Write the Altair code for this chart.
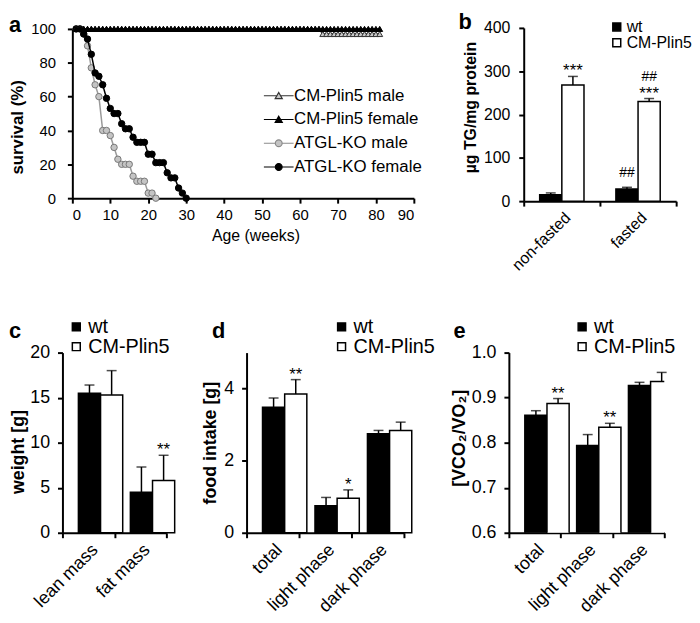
import altair as alt
import pandas as pd

FONT = "Liberation Sans"

# ---------------- panel a: survival ----------------
series_names = ["CM-Plin5 male", "CM-Plin5 female", "ATGL-KO male", "ATGL-KO female"]
plin_weeks = list(range(1, 82))
plin_male = [100] * 65 + [97] * 16
plin_female = [100] * 81
ko_male_weeks = list(range(1, 23))
ko_male = [100, 100, 97, 90, 77, 67, 60, 40, 40, 37, 30, 23, 20, 20, 20, 13, 10, 10, 10, 3, 3, 0]
ko_female_weeks = list(range(1, 31))
ko_female = [100, 100, 97, 94, 85, 74, 72, 67, 59, 53, 50, 50, 44, 41, 41, 36, 33, 33, 33,
             26, 26, 21, 21, 21, 15, 12, 12, 6, 3, 0]
a_xticks = [0, 10, 20, 30, 40, 50, 60, 70, 80, 90]
a_yticks = [0, 20, 40, 60, 80, 100]

# ---------------- panel b: TG ----------------
genotypes = ["wt", "CM-Plin5"]
b_groups = ["non-fasted", "fasted"]
b_wt = [15, 28]
b_wt_top = [19, 32]
b_cm = [268, 230]
b_cm_top = [288, 237]
b_wt_ast = ["", ""]
b_wt_hash = ["", "##"]
b_cm_ast = ["***", "***"]
b_cm_hash = ["", "##"]
b_yticks = [0, 100, 200, 300, 400]

# ---------------- panel c: body composition ----------------
c_groups = ["lean mass", "fat mass"]
c_wt = [15.5, 4.5]
c_wt_top = [16.4, 7.3]
c_cm = [15.3, 5.8]
c_cm_top = [18.0, 8.6]
c_wt_ast = ["", ""]
c_cm_ast = ["", "**"]
c_yticks = [0, 5, 10, 15, 20]

# ---------------- panel d: food intake ----------------
d_groups = ["total", "light phase", "dark phase"]
d_wt = [3.48, 0.75, 2.75]
d_wt_top = [3.74, 0.98, 2.84]
d_cm = [3.85, 0.96, 2.84]
d_cm_top = [4.25, 1.19, 3.07]
d_wt_ast = ["", "", ""]
d_cm_ast = ["**", "*", ""]
d_yticks = [0, 1, 2, 3, 4, 5]

# ---------------- panel e: RER ----------------
e_groups = ["total", "light phase", "dark phase"]
e_wt = [0.861, 0.794, 0.927]
e_wt_top = [0.871, 0.818, 0.934]
e_cm = [0.887, 0.834, 0.936]
e_cm_top = [0.898, 0.843, 0.956]
e_wt_ast = ["", "", ""]
e_cm_ast = ["**", "**", ""]
e_yticks = [0.6, 0.7, 0.8, 0.9, 1.0]


def axis_cfg(**kw):
    base = dict(domainColor="black", domainWidth=2, tickColor="black", tickWidth=2, tickSize=5,
                labelColor="black", labelFont=FONT, titleFont=FONT, titleColor="black", grid=False)
    base.update(kw)
    return alt.Axis(**base)


def letter(t, dx=0, offset=0):
    return alt.TitleParams(t, anchor="start", frame="group", fontSize=22, fontWeight="bold",
                           font=FONT, color="black", offset=offset, dx=dx)


# ---------- build panel a ----------
rows = []
for name, wk, vals in [("CM-Plin5 male", plin_weeks, plin_male),
                       ("CM-Plin5 female", plin_weeks, plin_female),
                       ("ATGL-KO male", ko_male_weeks, ko_male),
                       ("ATGL-KO female", ko_female_weeks, ko_female)]:
    for w, v in zip(wk, vals):
        rows.append({"series": name, "week": w, "surv": v})
a_df = pd.DataFrame(rows)

xa = alt.X("week:Q", scale=alt.Scale(domain=[0, 90], range=[10, 355], nice=False),
           axis=axis_cfg(values=a_xticks, title="Age (weeks)", labelFontSize=15, titleFontSize=16,
                         titleFontWeight="normal", labelPadding=5, titlePadding=5, titleX=195))
ya = alt.Y("surv:Q", scale=alt.Scale(domain=[0, 100], range=[172, 1], nice=False),
           axis=axis_cfg(values=a_yticks, title="survival (%)", labelFontSize=15, titleFontSize=17,
                         titleFontWeight="bold", labelPadding=12, titlePadding=4, offset=-10,
                         titleY=100, labelOverlap=False))

a_styles = {
    "ATGL-KO male": dict(line="#9a9a9a", shape="circle", fill="#c4c4c4", stroke="#777777", size=42),
    "ATGL-KO female": dict(line="#000000", shape="circle", fill="#000000", stroke="#000000", size=42),
    "CM-Plin5 male": dict(line="#333333", shape="triangle-up", fill="#c8c8c8", stroke="#333333", size=36),
    "CM-Plin5 female": dict(line="#000000", shape="triangle-up", fill="#000000", stroke="#000000", size=36),
}

a_layers = []
for name in ["ATGL-KO male", "ATGL-KO female", "CM-Plin5 male", "CM-Plin5 female"]:
    st = a_styles[name]
    base = alt.Chart(a_df).transform_filter(alt.datum.series == name).encode(x=xa, y=ya)
    a_layers.append(base.mark_line(color=st["line"], strokeWidth=1.5))
    a_layers.append(base.mark_point(shape=st["shape"], filled=True, fill=st["fill"], stroke=st["stroke"],
                                    strokeWidth=1, size=st["size"], opacity=1))

tri_path = "M-5,0H-0.63M0.63,0H5M0,-1.1L1.2,1L-1.2,1Z"
circ_path = "M-5,0H-1.15M1.15,0H5M1.15,0A1.15,1.15,0,1,1,-1.15,0A1.15,1.15,0,1,1,1.15,0Z"
leg_a = alt.Legend(title=None, orient="none", legendX=210, legendY=60, labelFontSize=17, labelFont=FONT,
                   labelColor="black", symbolSize=36, symbolStrokeWidth=1.2, labelOffset=7, rowPadding=6,
                   labelLimit=0, padding=0)
legend_layer = alt.Chart(a_df).transform_filter("false").mark_point(filled=True, size=36, strokeWidth=1.2,
                                                                    opacity=1).encode(
    x=xa, y=ya,
    shape=alt.Shape("series:N", scale=alt.Scale(domain=series_names,
                                                range=[tri_path, tri_path, circ_path, circ_path]), legend=leg_a),
    fill=alt.Fill("series:N", scale=alt.Scale(domain=series_names,
                                              range=["#c8c8c8", "#000000", "#c4c4c4", "#000000"]), legend=leg_a),
    stroke=alt.Stroke("series:N", scale=alt.Scale(domain=series_names,
                                                  range=["#333333", "#000000", "#8a8a8a", "#000000"]), legend=leg_a),
)

chart_a = alt.layer(*a_layers, legend_layer).properties(width=105, height=172,
                                                         title=letter("a", dx=-54, offset=-15))


# ---------- bar panels ----------
def bar_panel(groups, wt, wt_top, cm, cm_top, wt_ast, cm_ast, wt_hash, cm_hash, ydomain, yticks, ytitle,
              yfmt, xrange, area_w, height, tfs, lfs, titlefs, legx, legy, title_pad, label_pad, ast_fs,
              title, clip, title_y=None):
    rows = []
    for i, g in enumerate(groups):
        rows.append(dict(group=g, geno="wt", val=wt[i], top=wt_top[i], ast=wt_ast[i], hash=wt_hash[i]))
        rows.append(dict(group=g, geno="CM-Plin5", val=cm[i], top=cm_top[i], ast=cm_ast[i], hash=cm_hash[i]))
    df = pd.DataFrame(rows)
    x = alt.X("group:N", sort=groups, scale=alt.Scale(range=xrange, paddingInner=0, paddingOuter=0),
              axis=axis_cfg(title=None, labelAngle=-45, tickBand="extent", labelFontSize=tfs,
                            labelPadding=3))
    xo = alt.XOffset("geno:N", sort=genotypes, scale=alt.Scale(paddingInner=0, paddingOuter=0.72))
    ysc = alt.Scale(domain=ydomain, zero=False, nice=False)
    ykw = dict(values=yticks, title=ytitle, format=yfmt, labelFontSize=tfs, titleFontSize=titlefs,
               titleFontWeight="bold", labelPadding=label_pad, titlePadding=title_pad, offset=-xrange[0],
               labelOverlap=False)
    if title_y is not None:
        ykw["titleY"] = title_y
    yax = axis_cfg(**ykw)
    base = alt.Chart(df)
    bars = base.mark_bar(stroke="black", strokeWidth=1.5, clip=clip).encode(
        x=x, xOffset=xo, y=alt.Y("val:Q", scale=ysc, axis=yax),
        fill=alt.Fill("geno:N", sort=genotypes, scale=alt.Scale(domain=genotypes, range=["black", "white"]),
                      legend=alt.Legend(title=None, orient="none", legendX=legx, legendY=legy,
                                        symbolType="square", symbolSize=64, symbolStrokeColor="black",
                                        symbolStrokeWidth=1.5, labelFontSize=lfs, labelFont=FONT,
                                        labelColor="black", labelOffset=2, rowPadding=0, padding=0,
                                        labelLimit=0)))
    err = base.mark_rule(color="black", strokeWidth=1.5).encode(x=x, xOffset=xo, y=alt.Y("val:Q", scale=ysc),
                                                                y2="top:Q")
    caps = base.mark_tick(color="black", thickness=1.5, size=10, orient="horizontal").encode(
        x=x, xOffset=xo, y=alt.Y("top:Q", scale=ysc))
    ast = base.mark_text(baseline="alphabetic", dy=0, fontSize=ast_fs, font=FONT, color="black").encode(
        x=x, xOffset=xo, y=alt.Y("top:Q", scale=ysc), text="ast:N")
    hash_lo = base.transform_filter("datum.ast == ''").mark_text(
        baseline="alphabetic", dy=-10, fontSize=14, font=FONT, color="black").encode(
        x=x, xOffset=xo, y=alt.Y("top:Q", scale=ysc), text="hash:N")
    hash_hi = base.transform_filter("datum.ast != ''").mark_text(
        baseline="alphabetic", dy=-18, fontSize=14, font=FONT, color="black").encode(
        x=x, xOffset=xo, y=alt.Y("top:Q", scale=ysc), text="hash:N")
    return alt.layer(bars, err, caps, ast, hash_lo, hash_hi).properties(width=area_w, height=height,
                                                                         title=title)


blank2 = ["", ""]
blank3 = ["", "", ""]
chart_b = bar_panel(b_groups, b_wt, b_wt_top, b_cm, b_cm_top, b_wt_ast, b_cm_ast, b_wt_hash, b_cm_hash,
                    [0, 400], b_yticks, "µg TG/mg protein", "d", [361, 515], 240, 175, 16, 16, 16,
                    447, -9, 5, 9, 17, letter("b", dx=295, offset=-15), False, title_y=80)
chart_c = bar_panel(c_groups, c_wt, c_wt_top, c_cm, c_cm_top, c_wt_ast, c_cm_ast, blank2, blank2,
                    [0, 20], c_yticks, "weight [g]", "d", [0, 105], 105, 182, 18, 20, 18,
                    4, -36, 2, 8, 17, letter("c", dx=-54, offset=-26), False, title_y=100)
chart_d = bar_panel(d_groups, d_wt, d_wt_top, d_cm, d_cm_top, d_wt_ast, d_cm_ast, blank3, blank3,
                    [0, 5], d_yticks, "food intake [g]", "d", [81, 240], 240, 182, 18, 20, 18,
                    167, -36, 4, 8, 17, letter("d", dx=46, offset=-26), False)
chart_e = bar_panel(e_groups, e_wt, e_wt_top, e_cm, e_cm_top, e_wt_ast, e_cm_ast, blank3, blank3,
                    [0.6, 1.0], e_yticks, "[VCO₂/VO₂]", ".1f", [106, 263], 263, 182, 18, 20, 18,
                    170, -36, 3, 8, 17, letter("e", dx=50, offset=-26), True, title_y=86)

spacer = alt.Chart(pd.DataFrame({"v": []})).mark_point(opacity=0).encode(
    x=alt.X("v:Q", axis=None), y=alt.Y("v:Q", axis=None)).properties(width=1, height=1)

chart = alt.concat(chart_a, chart_b, spacer, chart_c, chart_d, chart_e, columns=3,
                   spacing={"row": 153, "column": 0}, bounds="flush", align="each").resolve_scale(
    fill="independent", stroke="independent", shape="independent", color="independent").resolve_legend(
    fill="independent", stroke="independent", shape="independent").properties(
    padding=0).configure_view(stroke=None)

chart.save("out.html", embed_options={"renderer": "svg", "actions": False})
